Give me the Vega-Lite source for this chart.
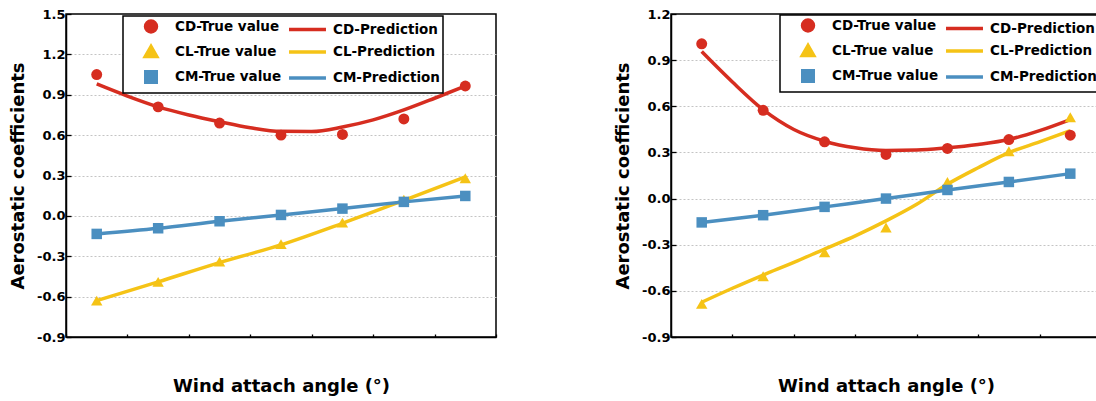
{
  "$schema": "https://vega.github.io/schema/vega-lite/v6.json",
  "padding": {"left": 8, "top": 7, "right": 0, "bottom": 0},
  "data": {
    "values": [
      {"panel": "a", "series": "CD-True value", "angle": -6, "value": 1.05},
      {"panel": "a", "series": "CD-True value", "angle": -4, "value": 0.81},
      {"panel": "a", "series": "CD-True value", "angle": -2, "value": 0.69},
      {"panel": "a", "series": "CD-True value", "angle": 0, "value": 0.60},
      {"panel": "a", "series": "CD-True value", "angle": 2, "value": 0.605},
      {"panel": "a", "series": "CD-True value", "angle": 4, "value": 0.72},
      {"panel": "a", "series": "CD-True value", "angle": 6, "value": 0.965},
      {"panel": "a", "series": "CD-Prediction", "angle": -6, "value": 0.98},
      {"panel": "a", "series": "CD-Prediction", "angle": -5, "value": 0.89},
      {"panel": "a", "series": "CD-Prediction", "angle": -4, "value": 0.81},
      {"panel": "a", "series": "CD-Prediction", "angle": -3, "value": 0.75},
      {"panel": "a", "series": "CD-Prediction", "angle": -2, "value": 0.70},
      {"panel": "a", "series": "CD-Prediction", "angle": -1, "value": 0.655},
      {"panel": "a", "series": "CD-Prediction", "angle": 0, "value": 0.628},
      {"panel": "a", "series": "CD-Prediction", "angle": 1, "value": 0.627},
      {"panel": "a", "series": "CD-Prediction", "angle": 2, "value": 0.66},
      {"panel": "a", "series": "CD-Prediction", "angle": 3, "value": 0.713},
      {"panel": "a", "series": "CD-Prediction", "angle": 4, "value": 0.787},
      {"panel": "a", "series": "CD-Prediction", "angle": 5, "value": 0.874},
      {"panel": "a", "series": "CD-Prediction", "angle": 6, "value": 0.965},
      {"panel": "a", "series": "CL-True value", "angle": -6, "value": -0.63},
      {"panel": "a", "series": "CL-True value", "angle": -4, "value": -0.49},
      {"panel": "a", "series": "CL-True value", "angle": -2, "value": -0.34},
      {"panel": "a", "series": "CL-True value", "angle": 0, "value": -0.21},
      {"panel": "a", "series": "CL-True value", "angle": 2, "value": -0.05},
      {"panel": "a", "series": "CL-True value", "angle": 4, "value": 0.12},
      {"panel": "a", "series": "CL-True value", "angle": 6, "value": 0.28},
      {"panel": "a", "series": "CL-Prediction", "angle": -6, "value": -0.63},
      {"panel": "a", "series": "CL-Prediction", "angle": -4, "value": -0.49},
      {"panel": "a", "series": "CL-Prediction", "angle": -2, "value": -0.347},
      {"panel": "a", "series": "CL-Prediction", "angle": 0, "value": -0.215},
      {"panel": "a", "series": "CL-Prediction", "angle": 2, "value": -0.055},
      {"panel": "a", "series": "CL-Prediction", "angle": 4, "value": 0.115},
      {"panel": "a", "series": "CL-Prediction", "angle": 6, "value": 0.29},
      {"panel": "a", "series": "CM-True value", "angle": -6, "value": -0.134},
      {"panel": "a", "series": "CM-True value", "angle": -4, "value": -0.092},
      {"panel": "a", "series": "CM-True value", "angle": -2, "value": -0.04},
      {"panel": "a", "series": "CM-True value", "angle": 0, "value": 0.007},
      {"panel": "a", "series": "CM-True value", "angle": 2, "value": 0.054},
      {"panel": "a", "series": "CM-True value", "angle": 4, "value": 0.104},
      {"panel": "a", "series": "CM-True value", "angle": 6, "value": 0.148},
      {"panel": "a", "series": "CM-Prediction", "angle": -6, "value": -0.134},
      {"panel": "a", "series": "CM-Prediction", "angle": -4, "value": -0.092},
      {"panel": "a", "series": "CM-Prediction", "angle": -2, "value": -0.04},
      {"panel": "a", "series": "CM-Prediction", "angle": 0, "value": 0.007},
      {"panel": "a", "series": "CM-Prediction", "angle": 2, "value": 0.054},
      {"panel": "a", "series": "CM-Prediction", "angle": 4, "value": 0.104},
      {"panel": "a", "series": "CM-Prediction", "angle": 6, "value": 0.148},

      {"panel": "b", "series": "CD-True value", "angle": -6, "value": 1.006},
      {"panel": "b", "series": "CD-True value", "angle": -4, "value": 0.574},
      {"panel": "b", "series": "CD-True value", "angle": -2, "value": 0.369},
      {"panel": "b", "series": "CD-True value", "angle": 0, "value": 0.287},
      {"panel": "b", "series": "CD-True value", "angle": 2, "value": 0.326},
      {"panel": "b", "series": "CD-True value", "angle": 4, "value": 0.384},
      {"panel": "b", "series": "CD-True value", "angle": 6, "value": 0.412},
      {"panel": "b", "series": "CD-Prediction", "angle": -6, "value": 0.956},
      {"panel": "b", "series": "CD-Prediction", "angle": -5, "value": 0.758},
      {"panel": "b", "series": "CD-Prediction", "angle": -4, "value": 0.578},
      {"panel": "b", "series": "CD-Prediction", "angle": -3, "value": 0.449},
      {"panel": "b", "series": "CD-Prediction", "angle": -2, "value": 0.373},
      {"panel": "b", "series": "CD-Prediction", "angle": -1, "value": 0.33},
      {"panel": "b", "series": "CD-Prediction", "angle": 0, "value": 0.313},
      {"panel": "b", "series": "CD-Prediction", "angle": 1, "value": 0.315},
      {"panel": "b", "series": "CD-Prediction", "angle": 2, "value": 0.33},
      {"panel": "b", "series": "CD-Prediction", "angle": 3, "value": 0.352},
      {"panel": "b", "series": "CD-Prediction", "angle": 4, "value": 0.384},
      {"panel": "b", "series": "CD-Prediction", "angle": 5, "value": 0.442},
      {"panel": "b", "series": "CD-Prediction", "angle": 6, "value": 0.514},
      {"panel": "b", "series": "CL-True value", "angle": -6, "value": -0.685},
      {"panel": "b", "series": "CL-True value", "angle": -4, "value": -0.505},
      {"panel": "b", "series": "CL-True value", "angle": -2, "value": -0.35},
      {"panel": "b", "series": "CL-True value", "angle": 0, "value": -0.188},
      {"panel": "b", "series": "CL-True value", "angle": 2, "value": 0.108},
      {"panel": "b", "series": "CL-True value", "angle": 4, "value": 0.308},
      {"panel": "b", "series": "CL-True value", "angle": 6, "value": 0.529},
      {"panel": "b", "series": "CL-Prediction", "angle": -6, "value": -0.674},
      {"panel": "b", "series": "CL-Prediction", "angle": -5, "value": -0.583},
      {"panel": "b", "series": "CL-Prediction", "angle": -4, "value": -0.497},
      {"panel": "b", "series": "CL-Prediction", "angle": -3, "value": -0.415},
      {"panel": "b", "series": "CL-Prediction", "angle": -2, "value": -0.328},
      {"panel": "b", "series": "CL-Prediction", "angle": -1, "value": -0.242},
      {"panel": "b", "series": "CL-Prediction", "angle": 0, "value": -0.145},
      {"panel": "b", "series": "CL-Prediction", "angle": 1, "value": -0.037},
      {"panel": "b", "series": "CL-Prediction", "angle": 2, "value": 0.093},
      {"panel": "b", "series": "CL-Prediction", "angle": 3, "value": 0.2},
      {"panel": "b", "series": "CL-Prediction", "angle": 4, "value": 0.298},
      {"panel": "b", "series": "CL-Prediction", "angle": 5, "value": 0.369},
      {"panel": "b", "series": "CL-Prediction", "angle": 6, "value": 0.442},
      {"panel": "b", "series": "CM-True value", "angle": -6, "value": -0.155},
      {"panel": "b", "series": "CM-True value", "angle": -4, "value": -0.108},
      {"panel": "b", "series": "CM-True value", "angle": -2, "value": -0.054},
      {"panel": "b", "series": "CM-True value", "angle": 0, "value": 0.0},
      {"panel": "b", "series": "CM-True value", "angle": 2, "value": 0.056},
      {"panel": "b", "series": "CM-True value", "angle": 4, "value": 0.108},
      {"panel": "b", "series": "CM-True value", "angle": 6, "value": 0.162},
      {"panel": "b", "series": "CM-Prediction", "angle": -6, "value": -0.155},
      {"panel": "b", "series": "CM-Prediction", "angle": -4, "value": -0.108},
      {"panel": "b", "series": "CM-Prediction", "angle": -2, "value": -0.054},
      {"panel": "b", "series": "CM-Prediction", "angle": 0, "value": 0.0},
      {"panel": "b", "series": "CM-Prediction", "angle": 2, "value": 0.056},
      {"panel": "b", "series": "CM-Prediction", "angle": 4, "value": 0.108},
      {"panel": "b", "series": "CM-Prediction", "angle": 6, "value": 0.162}
    ]
  },
  "spacing": 115,
  "resolve": {
    "scale": {"color": "independent", "shape": "independent", "size": "independent"},
    "legend": {"color": "independent", "shape": "independent", "size": "independent"}
  },
  "hconcat": [
    {
      "width": 430,
      "height": 323,
      "transform": [{"filter": "datum.panel == 'a'"}],
      "layer": [
        {
          "transform": [{"filter": "indexof(datum.series, 'Prediction') >= 0"}],
          "mark": {"type": "line", "strokeWidth": 3.5, "interpolate": "monotone"},
          "encoding": {
            "x": {"field": "angle", "type": "quantitative"},
            "y": {"field": "value", "type": "quantitative"},
            "color": {"field": "series", "type": "nominal"}
          }
        },
        {
          "transform": [{"filter": "indexof(datum.series, 'True') >= 0"}],
          "mark": {"type": "point", "filled": true, "opacity": 1},
          "encoding": {
            "x": {
              "field": "angle", "type": "quantitative",
              "scale": {"domain": [-7, 7], "nice": false, "zero": false},
              "axis": {
                "title": "Wind attach angle (°)",
                "values": [-7, -6, -5, -4, -3, -2, -1, 0, 1, 2, 3, 4, 5, 6, 7],
                "labelExpr": "abs(datum.value % 2) == 0 ? replace(datum.label, '−', '-') : ''",
                "tickSize": {"condition": {"test": "abs(datum.value % 2) == 0", "value": -5}, "value": -3},
                "gridOpacity": {"condition": {"test": "abs(datum.value % 2) == 0 && abs(datum.value) < 7", "value": 1}, "value": 0}
              }
            },
            "y": {
              "field": "value", "type": "quantitative",
              "scale": {"domain": [-0.9, 1.5], "nice": false, "zero": false},
              "axis": {
                "title": "Aerostatic coefficients",
                "values": [-0.9, -0.75, -0.6, -0.45, -0.3, -0.15, 0, 0.15, 0.3, 0.45, 0.6, 0.75, 0.9, 1.05, 1.2, 1.35, 1.5],
                "labelExpr": "abs(datum.value / 0.3 - round(datum.value / 0.3)) < 0.01 ? replace(format(datum.value, '.1f'), '−', '-') : ''",
                "tickSize": {"condition": {"test": "abs(datum.value / 0.3 - round(datum.value / 0.3)) < 0.01", "value": -5}, "value": -3},
                "gridOpacity": {"condition": {"test": "abs(datum.value / 0.3 - round(datum.value / 0.3)) < 0.01 && datum.value > -0.85 && datum.value < 1.45", "value": 1}, "value": 0}
              }
            },
            "color": {
              "field": "series", "type": "nominal",
              "scale": {
                "domain": ["CD-True value", "CD-Prediction", "CL-True value", "CL-Prediction", "CM-True value", "CM-Prediction"],
                "range": ["#d62d20", "#d62d20", "#f5c316", "#f5c316", "#4b8fc0", "#4b8fc0"]
              },
              "legend": {
                "orient": "none", "legendX": 57, "legendY": 2,
                "encode": {"symbols": {"update": {
                  "stroke": {"signal": "indexof(datum.value, 'Prediction') < 0 ? 'transparent' : indexof(datum.value, 'CD') == 0 ? '#d62d20' : indexof(datum.value, 'CL') == 0 ? '#f5c316' : '#4b8fc0'"},
                  "strokeWidth": {"value": 3.5}
                }}}
              }
            },
            "shape": {
              "field": "series", "type": "nominal",
              "scale": {
                "domain": ["CD-True value", "CD-Prediction", "CL-True value", "CL-Prediction", "CM-True value", "CM-Prediction"],
                "range": ["circle", "M-3.33,0H2.83", "triangle-up", "M-3.33,0H2.83", "square", "M-3.33,0H2.83"]
              }
            },
            "size": {
              "field": "series", "type": "nominal",
              "scale": {
                "type": "ordinal",
                "domain": ["CD-True value", "CD-Prediction", "CL-True value", "CL-Prediction", "CM-True value", "CM-Prediction"],
                "range": [120, 144, 130, 144, 110, 144]
              }
            }
          }
        }
      ]
    },
    {
      "width": 430,
      "height": 323,
      "transform": [{"filter": "datum.panel == 'b'"}],
      "layer": [
        {
          "transform": [{"filter": "indexof(datum.series, 'Prediction') >= 0"}],
          "mark": {"type": "line", "strokeWidth": 3.5, "interpolate": "monotone"},
          "encoding": {
            "x": {"field": "angle", "type": "quantitative"},
            "y": {"field": "value", "type": "quantitative"},
            "color": {"field": "series", "type": "nominal"}
          }
        },
        {
          "transform": [{"filter": "indexof(datum.series, 'True') >= 0"}],
          "mark": {"type": "point", "filled": true, "opacity": 1},
          "encoding": {
            "x": {
              "field": "angle", "type": "quantitative",
              "scale": {"domain": [-7, 7], "nice": false, "zero": false},
              "axis": {
                "title": "Wind attach angle (°)",
                "values": [-7, -6, -5, -4, -3, -2, -1, 0, 1, 2, 3, 4, 5, 6, 7],
                "labelExpr": "abs(datum.value % 2) == 0 ? replace(datum.label, '−', '-') : ''",
                "tickSize": {"condition": {"test": "abs(datum.value % 2) == 0", "value": -5}, "value": -3},
                "gridOpacity": {"condition": {"test": "abs(datum.value % 2) == 0 && abs(datum.value) < 7", "value": 1}, "value": 0}
              }
            },
            "y": {
              "field": "value", "type": "quantitative",
              "scale": {"domain": [-0.9, 1.2], "nice": false, "zero": false},
              "axis": {
                "title": "Aerostatic coefficients",
                "values": [-0.9, -0.75, -0.6, -0.45, -0.3, -0.15, 0, 0.15, 0.3, 0.45, 0.6, 0.75, 0.9, 1.05, 1.2],
                "labelExpr": "abs(datum.value / 0.3 - round(datum.value / 0.3)) < 0.01 ? replace(format(datum.value, '.1f'), '−', '-') : ''",
                "tickSize": {"condition": {"test": "abs(datum.value / 0.3 - round(datum.value / 0.3)) < 0.01", "value": -5}, "value": -3},
                "gridOpacity": {"condition": {"test": "abs(datum.value / 0.3 - round(datum.value / 0.3)) < 0.01 && datum.value > -0.85 && datum.value < 1.15", "value": 1}, "value": 0}
              }
            },
            "color": {
              "field": "series", "type": "nominal",
              "scale": {
                "domain": ["CD-True value", "CD-Prediction", "CL-True value", "CL-Prediction", "CM-True value", "CM-Prediction"],
                "range": ["#d62d20", "#d62d20", "#f5c316", "#f5c316", "#4b8fc0", "#4b8fc0"]
              },
              "legend": {
                "orient": "none", "legendX": 109, "legendY": 1,
                "encode": {"symbols": {"update": {
                  "stroke": {"signal": "indexof(datum.value, 'Prediction') < 0 ? 'transparent' : indexof(datum.value, 'CD') == 0 ? '#d62d20' : indexof(datum.value, 'CL') == 0 ? '#f5c316' : '#4b8fc0'"},
                  "strokeWidth": {"value": 3.5}
                }}}
              }
            },
            "shape": {
              "field": "series", "type": "nominal",
              "scale": {
                "domain": ["CD-True value", "CD-Prediction", "CL-True value", "CL-Prediction", "CM-True value", "CM-Prediction"],
                "range": ["circle", "M-3.33,0H2.83", "triangle-up", "M-3.33,0H2.83", "square", "M-3.33,0H2.83"]
              }
            },
            "size": {
              "field": "series", "type": "nominal",
              "scale": {
                "type": "ordinal",
                "domain": ["CD-True value", "CD-Prediction", "CL-True value", "CL-Prediction", "CM-True value", "CM-Prediction"],
                "range": [120, 144, 130, 144, 110, 144]
              }
            }
          }
        }
      ]
    }
  ],
  "config": {
    "font": "DejaVu Sans",
    "view": {"stroke": "#000000", "strokeWidth": 1.5},
    "background": "white",
    "axis": {
      "domainColor": "#000000",
      "domainWidth": 1.5,
      "tickColor": "#000000",
      "tickWidth": 1.3,
      "labelFont": "DejaVu Sans",
      "labelFontWeight": "bold",
      "labelFontSize": 13,
      "labelColor": "#000000",
      "titleFont": "DejaVu Sans",
      "titleFontWeight": "bold",
      "titleFontSize": 18,
      "titleColor": "#000000",
      "grid": true,
      "gridColor": "#c4c4c4",
      "gridDash": [2, 2],
      "gridWidth": 1
    },
    "axisX": {"labelPadding": 10, "titlePadding": 20, "labelFlush": false, "labelOverlap": false},
    "axisY": {"labelPadding": 6, "titlePadding": 9, "labelOverlap": false},
    "legend": {
      "title": null,
      "columns": 2,
      "direction": "horizontal",
      "fillColor": "white",
      "strokeColor": "#000000",
      "strokeWidth": 1.5,
      "padding": 3,
      "rowPadding": 0,
      "columnPadding": 0,
      "symbolOffset": 17,
      "symbolStrokeWidth": 3.5,
      "labelFont": "DejaVu Sans",
      "labelFontWeight": "bold",
      "labelFontSize": 13.5,
      "labelColor": "#000000",
      "labelOffset": 16,
      "labelLimit": 300
    }
  }
}
